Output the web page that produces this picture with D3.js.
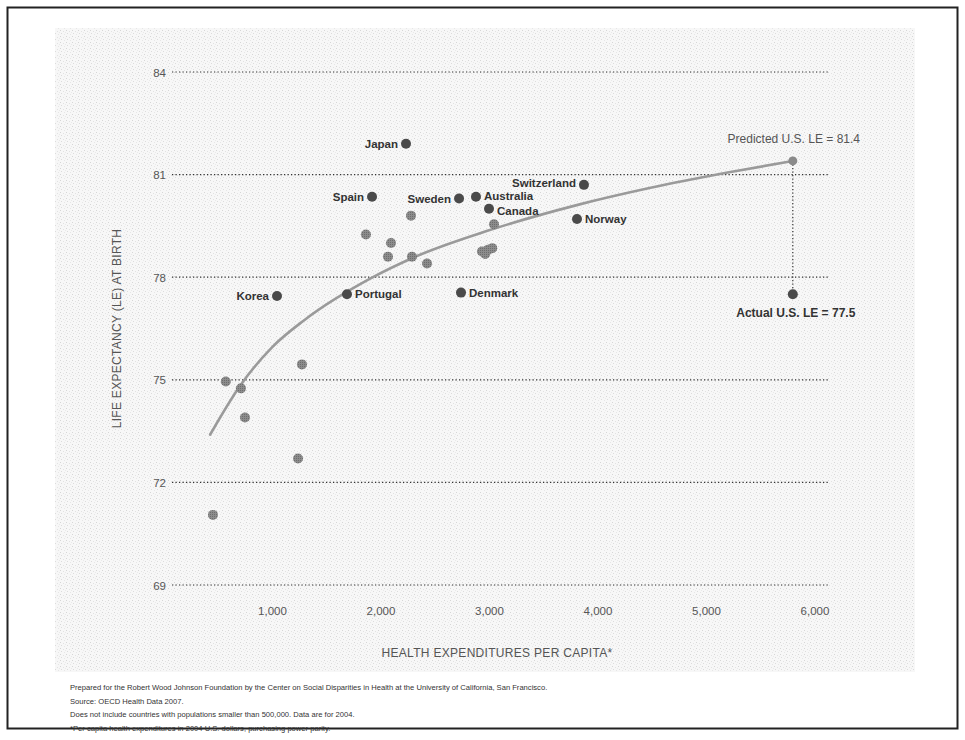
<!DOCTYPE html>
<html>
<head>
<meta charset="utf-8">
<script src="https://cdn.jsdelivr.net/npm/d3@7/dist/d3.min.js"></script>
<style>
  html, body { margin: 0; padding: 0; background: #fff; }
  svg { display: block; }
  text { font-family: "Liberation Sans", Arial, Helvetica, sans-serif; }
</style>
</head>
<body>
<svg id="chart" width="965" height="740"></svg>
<script>
// Health spending per capita (US$ PPP) vs. life expectancy at birth
const labeledCountries = ["Japan", "Spain", "Sweden", "Australia", "Switzerland", "Canada", "Norway", "Korea", "Portugal", "Denmark"];
const labeledSpend     = [2235, 1922, 2724, 2880, 3875, 3000, 3811, 1046, 1691, 2742];
const labeledLE        = [81.9, 80.35, 80.3, 80.35, 80.7, 80.0, 79.7, 77.45, 77.5, 77.55];
const labelSide        = ["left", "left", "left", "right", "left", "right", "right", "left", "right", "right"];

const otherSpend = [2281, 1866, 2097, 2069, 2290, 2429, 2935, 2990, 3030, 2965, 3046, 574, 714, 751, 1276, 1240, 456];
const otherLE    = [79.8, 79.25, 79.0, 78.6, 78.6, 78.4, 78.75, 78.8, 78.85, 78.68, 79.55, 74.95, 74.75, 73.9, 75.45, 72.7, 71.05];

const usSpend = 5800;
const usPredictedLE = 81.4;
const usActualLE = 77.5;

// Fitted trend (spending, life expectancy)
const trendSpend = [430, 700, 1000, 1300, 1900, 2300, 3000, 3800, 4500, 5200, 5800];
const trendLE    = [73.4, 74.8, 75.95, 76.75, 77.95, 78.57, 79.37, 80.1, 80.62, 81.06, 81.4];

const yTicks = [84, 81, 78, 75, 72, 69];
const xTicks = [1000, 2000, 3000, 4000, 5000, 6000];

const footnotes = [
  "Prepared for the Robert Wood Johnson Foundation by the Center on Social Disparities in Health at the University of California, San Francisco.",
  "Source: OECD Health Data 2007.",
  "Does not include countries with populations smaller than 500,000. Data are for 2004.",
  "*Per capita health expenditures in 2004 U.S. dollars, purchasing power parity."
];

const svg = d3.select("#chart");

// Halftone paper texture behind the plot
const defs = svg.append("defs");
const pat = defs.append("pattern")
  .attr("id", "halftone").attr("width", 6).attr("height", 6)
  .attr("patternUnits", "userSpaceOnUse");
pat.append("rect").attr("width", 6).attr("height", 6).attr("fill", "#f7f7f7");
[[0, 0, "#d6d6d6"], [3, 1, "#e2e2e2"], [1, 3, "#dcdcdc"], [4, 4, "#e6e6e6"], [5, 2, "#e9e9e9"]]
  .forEach(([px, py, c]) => pat.append("rect").attr("x", px).attr("y", py)
    .attr("width", 1).attr("height", 1).attr("fill", c));

const dotPat = defs.append("pattern")
  .attr("id", "dotfill").attr("width", 2).attr("height", 2)
  .attr("patternUnits", "userSpaceOnUse");
dotPat.append("rect").attr("width", 2).attr("height", 2).attr("fill", "#8c8c8c");
dotPat.append("rect").attr("width", 1).attr("height", 1).attr("fill", "#6c6c6c");

svg.append("rect").attr("x", 55).attr("y", 28).attr("width", 860).attr("height", 644)
  .attr("fill", "url(#halftone)");

// Outer frame
svg.append("rect").attr("x", 7.5).attr("y", 7.5).attr("width", 950).attr("height", 721)
  .attr("fill", "none").attr("stroke", "#222").attr("stroke-width", 2);

const x = d3.scaleLinear().domain([0, 6000]).range([163.5, 814.5]);
const y = d3.scaleLinear().domain([69, 84]).range([585, 72]);

const gridX0 = x(78), gridX1 = x(6140);

// Horizontal dotted gridlines and y labels
const yAxis = d3.axisLeft(y).tickValues(yTicks).tickSize(0).tickPadding(0)
  .tickFormat(d3.format("d"));
const gy = svg.append("g").attr("transform", `translate(${gridX0 - 6},0)`).call(yAxis);
gy.select(".domain").remove();
gy.selectAll("text").attr("font-size", 11.5).attr("fill", "#555").attr("dy", "0.35em");

svg.append("g").selectAll("line").data(yTicks).join("line")
  .attr("x1", gridX0).attr("x2", gridX1)
  .attr("y1", d => y(d)).attr("y2", d => y(d))
  .attr("stroke", "#333").attr("stroke-width", 1.2)
  .attr("stroke-dasharray", "1.3,2.2");

// x labels
const xAxis = d3.axisBottom(x).tickValues(xTicks).tickSize(0).tickPadding(0)
  .tickFormat(d3.format(","));
const gx = svg.append("g").attr("transform", `translate(0,${y(69) + 22})`).call(xAxis);
gx.select(".domain").remove();
gx.selectAll("text").attr("font-size", 11.5).attr("fill", "#555");

// Axis titles
svg.append("text").attr("x", 497).attr("y", 657).attr("text-anchor", "middle")
  .attr("font-size", 12).attr("fill", "#555").attr("letter-spacing", 0.3)
  .text("HEALTH EXPENDITURES PER CAPITA*");
svg.append("text")
  .attr("transform", `translate(121,${(y(84) + y(69)) / 2}) rotate(-90)`)
  .attr("text-anchor", "middle").attr("font-size", 12).attr("fill", "#555")
  .attr("letter-spacing", 0.3)
  .text("LIFE EXPECTANCY (LE) AT BIRTH");

// US predicted vs actual connector
svg.append("line")
  .attr("x1", x(usSpend)).attr("x2", x(usSpend))
  .attr("y1", y(usPredictedLE)).attr("y2", y(usActualLE))
  .attr("stroke", "#333").attr("stroke-width", 1.2).attr("stroke-dasharray", "1.3,2.2");

// Trend curve
const trend = trendSpend.map((s, i) => [s, trendLE[i]]);
svg.append("path").datum(trend)
  .attr("d", d3.line().x(d => x(d[0])).y(d => y(d[1])).curve(d3.curveMonotoneX))
  .attr("fill", "none").attr("stroke", "#9a9a9a").attr("stroke-width", 2.6)
  .attr("stroke-linecap", "round");

// Unlabeled countries
svg.append("g").selectAll("circle").data(otherSpend).join("circle")
  .attr("cx", d => x(d)).attr("cy", (d, i) => y(otherLE[i])).attr("r", 5)
  .attr("fill", "url(#dotfill)");

// Labeled countries
const labelNudge = { Switzerland: -2, Australia: -0.5, Canada: 2 };
const lab = svg.append("g");
labeledCountries.forEach((name, i) => {
  const cx = x(labeledSpend[i]), cy = y(labeledLE[i]);
  lab.append("circle").attr("cx", cx).attr("cy", cy).attr("r", 5).attr("fill", "#4a4a4a");
  const left = labelSide[i] === "left";
  lab.append("text")
    .attr("x", left ? cx - 8 : cx + 8).attr("y", cy + (labelNudge[name] || 0)).attr("dy", "0.35em")
    .attr("text-anchor", left ? "end" : "start")
    .attr("font-size", 11.5).attr("font-weight", "bold").attr("fill", "#333")
    .text(name);
});

// US points
svg.append("circle").attr("cx", x(usSpend)).attr("cy", y(usPredictedLE)).attr("r", 4.5).attr("fill", "#8a8a8a");
svg.append("circle").attr("cx", x(usSpend)).attr("cy", y(usActualLE)).attr("r", 5).attr("fill", "#4a4a4a");
svg.append("text").attr("x", x(usSpend) + 1).attr("y", y(usPredictedLE) - 18)
  .attr("text-anchor", "middle").attr("font-size", 12).attr("fill", "#555")
  .text("Predicted U.S. LE = " + usPredictedLE);
svg.append("text").attr("x", x(usSpend) + 3).attr("y", y(usActualLE) + 23)
  .attr("text-anchor", "middle").attr("font-size", 12).attr("font-weight", "bold").attr("fill", "#333")
  .text("Actual U.S. LE = " + usActualLE);

// Footnotes
svg.append("g").selectAll("text").data(footnotes).join("text")
  .attr("x", 70).attr("y", (d, i) => 690 + i * 13.5)
  .attr("font-size", 7.6).attr("fill", "#333")
  .text(d => d);
</script>
</body>
</html>
